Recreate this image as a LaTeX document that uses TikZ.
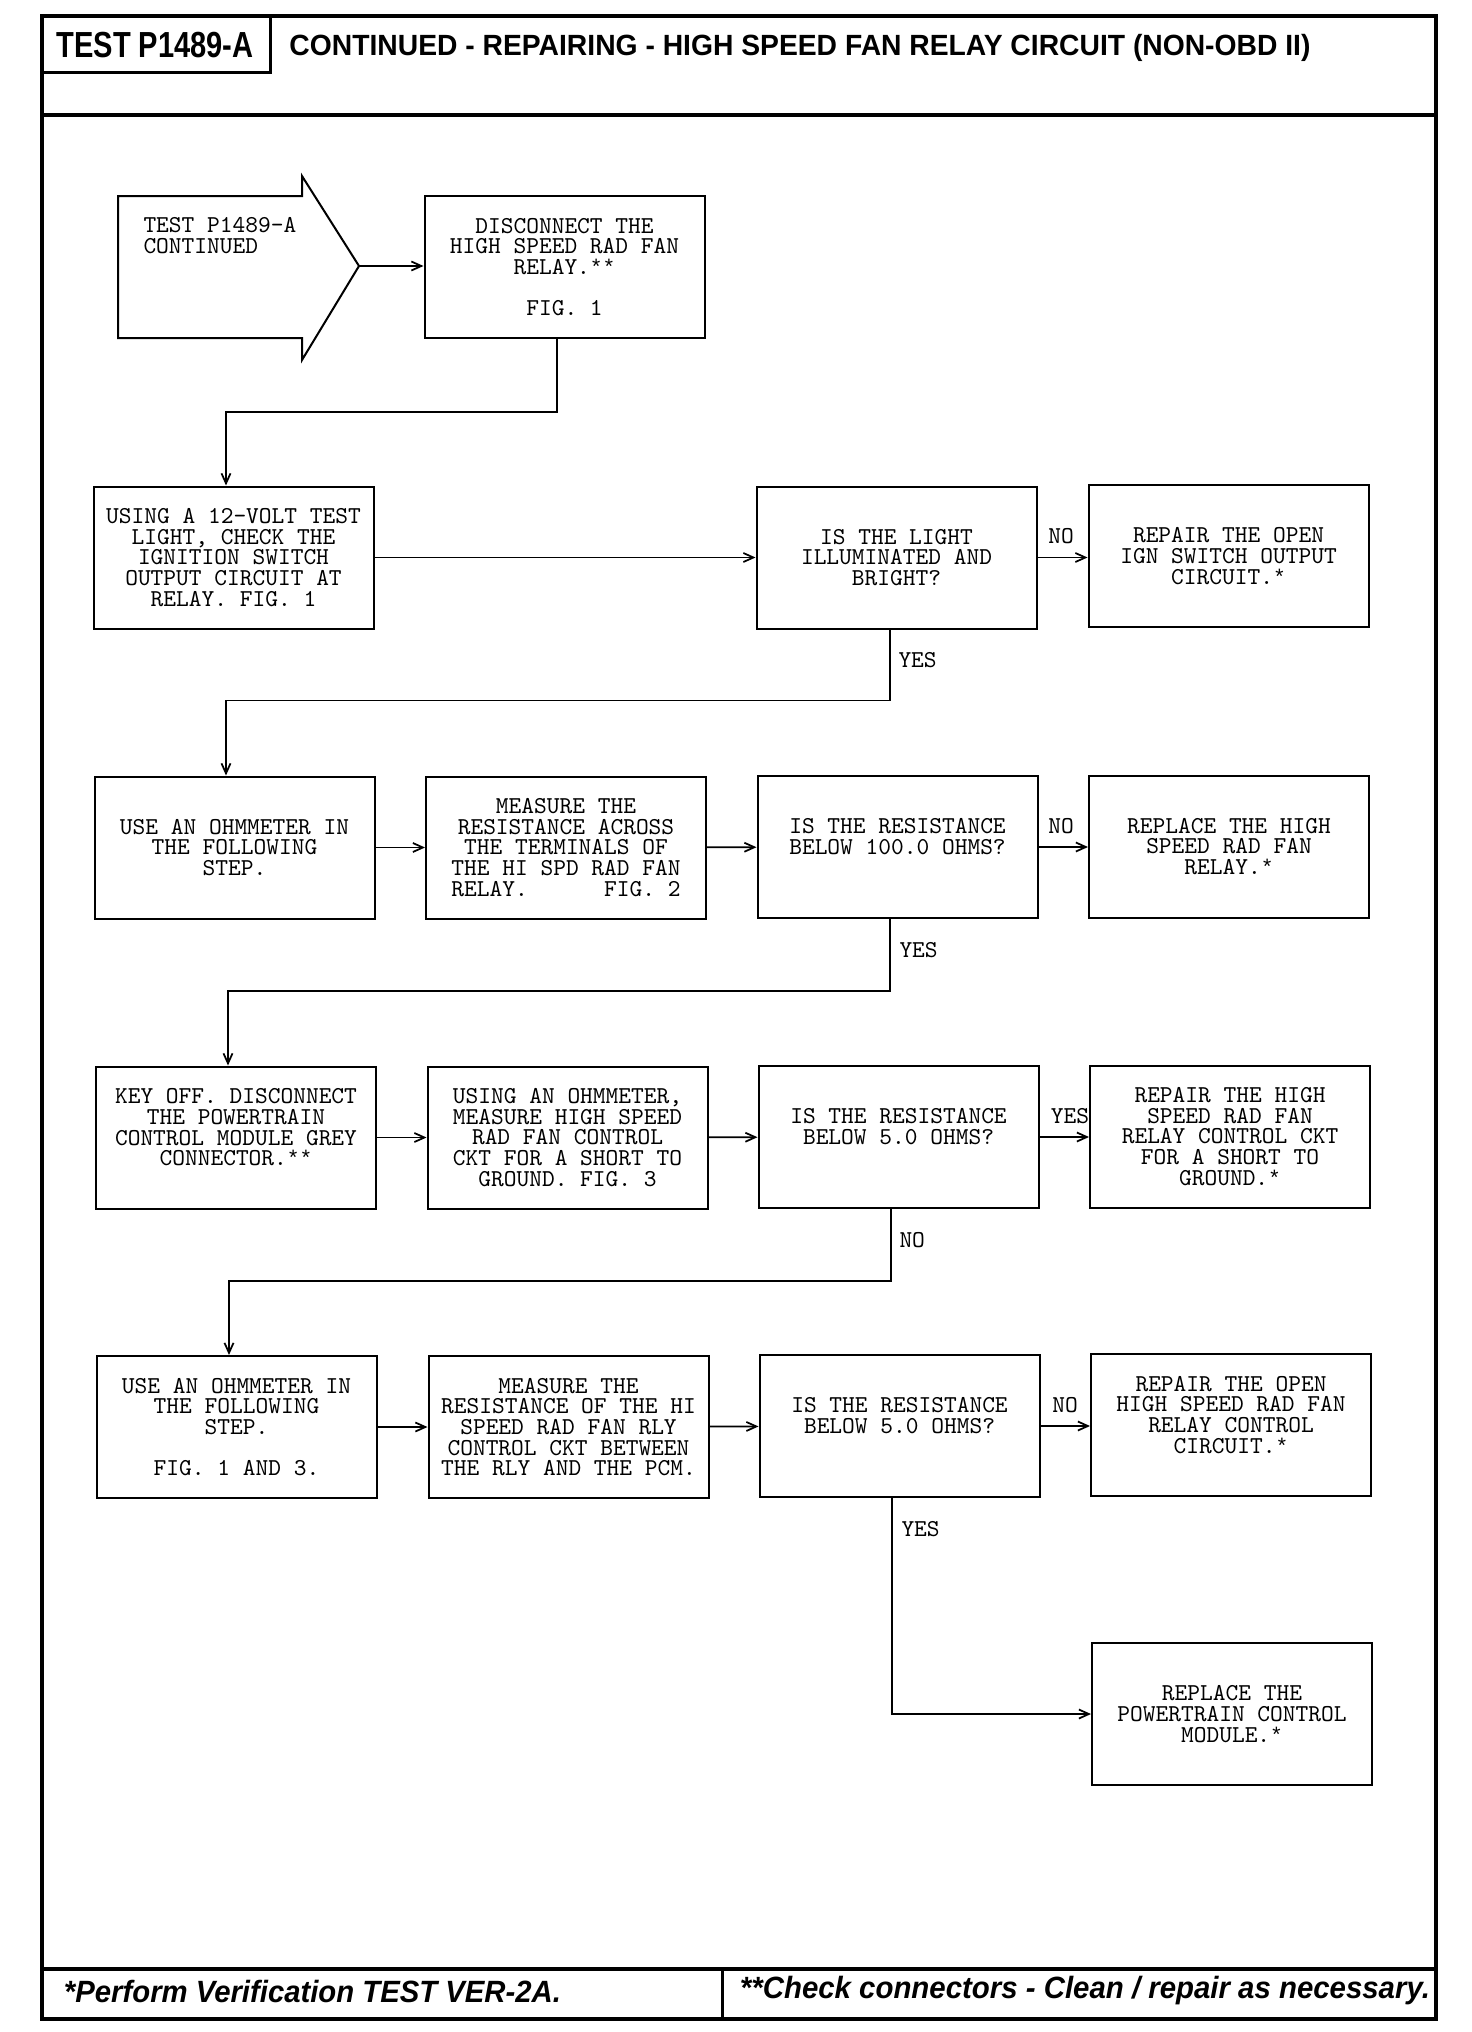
\documentclass[tikz,border=0pt]{standalone}
\usepackage{fontspec}
\usepackage{graphicx}
\setmainfont{Liberation Sans}
\newfontfamily\astfont{Liberation Mono}
\usetikzlibrary{arrows.meta}
\newdimen\px \px=0.4pt
\newcommand{\rast}{{\astfont\fontsize{8.48pt}{8.28pt}\selectfont *}}
\begin{document}
\begin{tikzpicture}[x=0.4pt,y=-0.4pt,
  box/.style={draw, line width=0.8pt, minimum width=280\px, minimum height=142\px,
    inner sep=0pt, align=center, font=\ttfamily\fontsize{9.7pt}{8.28pt}\selectfont},
  lbl/.style={inner sep=0pt, font=\ttfamily\fontsize{9.7pt}{8.28pt}\selectfont},
  arr/.style={line width=0.7pt, -{Straight Barb[length=4pt,width=3.6pt]}},
  frame/.style={line width=1.6pt},
  thick frame/.style={line width=1.2pt}]
\useasboundingbox (0,0) rectangle (1472,2032);
\fill[white] (0,0) rectangle (1472,2032);
% frame
\draw[frame] (42,16) rectangle (1436,2019);
\draw[frame] (42,115) -- (1436,115);
\draw[frame] (42,1969) -- (1436,1969);
\draw[thick frame] (722,1969) -- (722,2019);
\draw[thick frame] (42,73) -- (270,73) -- (270,16);
\node[inner sep=0pt] (ttl) at (155,45) {\resizebox{197\px}{\height}{\fontsize{14.5pt}{16pt}\selectfont\bfseries TEST P1489-A}};
\node[inner sep=0pt] (ttl2) at (800,48) {\resizebox{1021\px}{\height}{\fontsize{11.7pt}{14pt}\selectfont\bfseries CONTINUED - REPAIRING - HIGH SPEED FAN RELAY CIRCUIT (NON-OBD II)}};
\node[inner sep=0pt] (ft1) at (312.5,1991) {\resizebox{497\px}{\height}{\fontsize{12.3pt}{14pt}\selectfont\bfseries\itshape *Perform Verification TEST VER-2A.}};
\node[inner sep=0pt] (ft2) at (1085,1991) {\resizebox{690\px}{\height}{\fontsize{12.3pt}{14pt}\selectfont\bfseries\itshape **Check connectors - Clean / repair as necessary.}};
% entry arrow shape
\draw[line width=0.8pt] (118,196) -- (302,196) -- (302,176) -- (359,266) -- (302,360) -- (302,338) -- (118,338) -- cycle;
\coordinate (tip) at (359,266);
\node[lbl, align=left, anchor=west] (pt) at (143,235.5) {TEST P1489-A\\CONTINUED};
% boxes
\node[box] (b1) at (564.5,267) {DISCONNECT THE\\HIGH SPEED RAD FAN\\RELAY.\rast\rast\\\mbox{}\\FIG. 1};
\node[box] (b2) at (233.5,557.5) {USING A 12-VOLT TEST\\LIGHT, CHECK THE\\IGNITION SWITCH\\OUTPUT CIRCUIT AT\\RELAY. FIG. 1};
\node[box] (q1) at (896.5,557.5) {IS THE LIGHT\\ILLUMINATED AND\\BRIGHT?};
\node[box] (r1) at (1228.5,556) {REPAIR THE OPEN\\IGN SWITCH OUTPUT\\CIRCUIT.\rast};
\node[box] (b3) at (234.5,847.5) {USE AN OHMMETER IN\\THE FOLLOWING\\STEP.};
\node[box] (b4) at (566,847.5) {MEASURE THE\\RESISTANCE ACROSS\\THE TERMINALS OF\\THE HI SPD RAD FAN\\RELAY.\ \ \ \ \ \ FIG. 2};
\node[box] (q2) at (897.5,847) {IS THE RESISTANCE\\BELOW 100.0 OHMS?\\\mbox{}};
\node[box] (r2) at (1229,846.5) {REPLACE THE HIGH\\SPEED RAD FAN\\RELAY.\rast};
\node[box] (b5) at (236,1137.5) {KEY OFF. DISCONNECT\\THE POWERTRAIN\\CONTROL MODULE GREY\\CONNECTOR.\rast\rast\\\mbox{}};
\node[box] (b6) at (567.5,1137.5) {USING AN OHMMETER,\\MEASURE HIGH SPEED\\RAD FAN CONTROL\\CKT FOR A SHORT TO\\GROUND. FIG. 3};
\node[box] (q3) at (898.5,1137) {IS THE RESISTANCE\\BELOW 5.0 OHMS?\\\mbox{}};
\node[box] (r3) at (1230,1136.5) {REPAIR THE HIGH\\SPEED RAD FAN\\RELAY CONTROL CKT\\FOR A SHORT TO\\GROUND.\rast};
\node[box] (b7) at (236.5,1427) {USE AN OHMMETER IN\\THE FOLLOWING\\STEP.\\\mbox{}\\FIG. 1 AND 3.};
\node[box] (b8) at (568.5,1427) {MEASURE THE\\RESISTANCE OF THE HI\\SPEED RAD FAN RLY\\CONTROL CKT BETWEEN\\THE RLY AND THE PCM.};
\node[box] (q4) at (899.5,1426) {IS THE RESISTANCE\\BELOW 5.0 OHMS?\\\mbox{}};
\node[box] (r4) at (1231,1425) {REPAIR THE OPEN\\HIGH SPEED RAD FAN\\RELAY CONTROL\\CIRCUIT.\rast\\\mbox{}};
\node[box] (r5) at (1232,1714) {REPLACE THE\\POWERTRAIN CONTROL\\MODULE.\rast};
% labels
\node[lbl] (n1) at (1061,536) {NO};
\node[lbl, anchor=west] (y1) at (898,660) {YES};
\node[lbl] (n2) at (1061,826) {NO};
\node[lbl, anchor=west] (y2) at (899,950) {YES};
\node[lbl] (y3) at (1070,1116) {YES};
\node[lbl, anchor=west] (n3) at (899,1240) {NO};
\node[lbl] (n4) at (1065,1405) {NO};
\node[lbl, anchor=west] (y4) at (901,1529) {YES};
% connectors
\draw[arr] (tip) -- (b1.west |- tip);
\draw[arr] ([xshift=-7.5\px]b1.south) -- ++(0,73) -| ([xshift=-7.5\px]b2.north);
\draw[arr] (b2) -- (q1);
\draw[arr] (q1) -- (r1.west |- q1);
\draw[arr] ([xshift=-6.5\px]q1.south) -- ++(0,71) -| ([xshift=-8.5\px]b3.north);
\draw[arr] (b3) -- (b4);
\draw[arr] (b4) -- (q2);
\draw[arr] (q2) -- (r2.west |- q2);
\draw[arr] ([xshift=-7.5\px]q2.south) -- ++(0,72) -| ([xshift=-8\px]b5.north);
\draw[arr] (b5) -- (b6);
\draw[arr] (b6) -- (q3);
\draw[arr] (q3) -- (r3.west |- q3);
\draw[arr] ([xshift=-7.5\px]q3.south) -- ++(0,72) -| ([xshift=-7.5\px]b7.north);
\draw[arr] (b7) -- (b8);
\draw[arr] (b8) -- (q4);
\draw[arr] (q4) -- (r4.west |- q4);
\draw[arr] ([xshift=-7.5\px]q4.south) |- (r5.west);
\end{tikzpicture}
\end{document}
